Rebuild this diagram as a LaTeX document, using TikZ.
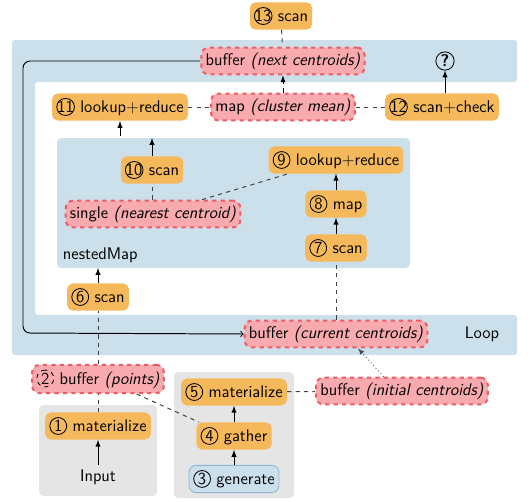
\documentclass[tikz,border=0pt]{standalone}
\usetikzlibrary{positioning,arrows}
\definecolor{opfill}{RGB}{245,185,92}
\definecolor{buffill}{RGB}{248,170,174}
\definecolor{bufdraw}{RGB}{238,92,102}
\definecolor{loopblue}{RGB}{204,224,236}
\definecolor{genblue}{RGB}{140,184,214}
\definecolor{boxgray}{RGB}{229,229,229}
\newcommand{\stepno}[2][solid]{\tikz[baseline=(c.base)]\node[draw=black,#1,line width=0.6pt,rounded corners=6pt,
  minimum height=12pt,minimum width=12pt,inner sep=0.4pt,fill=none] (c) {#2};}
\tikzset{
  opbox/.style={fill=opfill,rounded corners=4pt,inner xsep=3pt,minimum height=19pt},
  bufbox/.style={fill=buffill,draw=bufdraw,dashed,line width=1.4pt,rounded corners=5pt,
    inner xsep=3pt,minimum height=19pt},
  genbox/.style={fill=loopblue,draw=genblue,line width=0.6pt,rounded corners=5pt,
    inner xsep=3pt,minimum height=19pt},
  flow/.style={-latex,line width=0.7pt},
  dep/.style={dashed,line width=0.7pt,black!75}
}
\begin{document}
\begin{tikzpicture}[x=0.025cm,y=-0.025cm,font=\sffamily\large]
\useasboundingbox (0,0) rectangle (529,502);

% backgrounds
\fill[loopblue,rounded corners=2pt] (12,40) -- (517,40) -- (517,82) -- (35,82) -- (35,315)
  -- (517,315) -- (517,355) -- (12,355) -- cycle;
\fill[loopblue,rounded corners=3pt] (57,138) rectangle (410,268);
\fill[boxgray,rounded corners=3pt] (39,405) rectangle (157,496);
\fill[boxgray,rounded corners=3pt] (174,372) rectangle (294,498);

% nodes
\node[opbox] (scanE) at (281,16) {\stepno{13} scan};
\node[bufbox] (nextc) at (283,61) {buffer \textit{(next centroids)}};
\node[circle,draw,line width=0.6pt,inner sep=0.5pt,minimum size=13pt] (check) at (445,61) {\textbf{?}};
\node[opbox] (lookupB) at (120,107) {\stepno{11} lookup+reduce};
\node[bufbox] (mean) at (283,107) {map \textit{(cluster mean)}};
\node[opbox] (scanD) at (442,107) {\stepno{12} scan+check};

\node[opbox] (scanC) at (152,170) {\stepno{10} scan};
\node[bufbox] (nearest) at (153,214) {single \textit{(nearest centroid)}};
\node[opbox] (lookupA) at (336,160) {\stepno{9} lookup+reduce};
\node[opbox] (mapA) at (336,204) {\stepno{8} map};
\node[opbox] (scanB) at (336,248) {\stepno{7} scan};
\node[anchor=west] (nested) at (58,255) {nestedMap};
\coordinate (nestedtop) at (152,138);
\coordinate (nestedout) at (120,136);
\coordinate (nestedin) at (98,268);

\node[opbox] (scanA) at (98,297) {\stepno{6} scan};
\node[bufbox] (curc) at (336,334) {buffer \textit{(current centroids)}};
\node (loop) at (482,334) {Loop};

\node[bufbox] (points) at (98,379) {\stepno[dashed]{2} buffer \textit{(points)}};
\node[opbox] (matA) at (98,426) {\stepno{1} materialize};
\node (input) at (98,477) {Input};
\node[opbox] (matB) at (234,392) {\stepno{5} materialize};
\node[opbox] (gather) at (234,436) {\stepno{4} gather};
\node[genbox] (gen) at (234,479) {\stepno{3} generate};
\node[bufbox] (initc) at (402,391) {buffer \textit{(initial centroids)}};

% connectors
\draw[->,line width=0.7pt,rounded corners=5pt] (nextc.west) -- (23,61) -- (23,333) -- (curc.west);
\draw[dep] (scanE) -- (nextc);
\draw[flow,dashed] (mean) -- (nextc);
\draw[flow] (scanD.north -| check) -- (check);
\draw[dep] (lookupB) -- (mean);
\draw[dep] (mean) -- (scanD);
\draw[flow] (nestedout) -- (lookupB.south -| nestedout);
\draw[flow] (scanC) -- (nestedtop);
\draw[dep] (nearest.north -| scanC) -- (scanC);
\draw[dep] ([xshift=-28pt]nearest.north east) -- ([xshift=14pt]lookupA.south west);
\draw[flow] (scanB) -- (mapA);
\draw[flow] (mapA) -- (lookupA);
\draw[flow] (scanA) -- (nestedin);
\draw[dep] (points) -- (scanA);
\draw[dep] (curc) -- (scanB);
\draw[dep] (matA) -- (points);
\draw[flow] (input) -- (matA);
\draw[flow] (gen) -- (gather);
\draw[flow] (gather) -- (matB);
\draw[dep] ([xshift=-20pt]points.south east) -- ([xshift=2pt]gather.north west);
\draw[dep] (matB) -- (initc);
\draw[-latex,dotted,line width=0.6pt,black!70] ([xshift=-13pt]initc.north) -- ([xshift=-50pt]curc.south east);
\end{tikzpicture}
\end{document}
